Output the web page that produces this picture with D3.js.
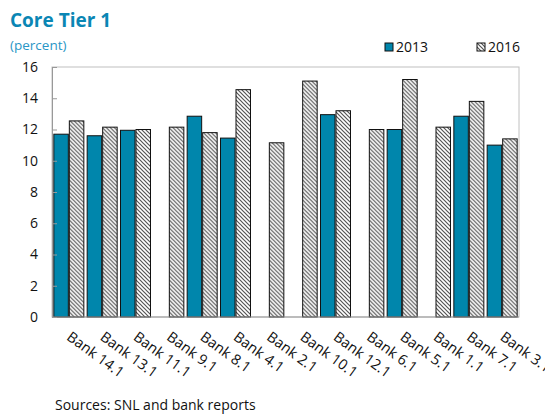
<!DOCTYPE html>
<html>
<head>
<meta charset="utf-8">
<script src="https://cdn.jsdelivr.net/npm/d3@7"></script>
<style>
  body { margin: 0; background: #fff; }
  text { font-family: "Open Sans", "Noto Sans", sans-serif; }
</style>
</head>
<body>
<script>
var banks = ["Bank 14.1", "Bank 13.1", "Bank 11.1", "Bank 9.1", "Bank 8.1", "Bank 4.1", "Bank 2.1",
             "Bank 10.1", "Bank 12.1", "Bank 6.1", "Bank 5.1", "Bank 1.1", "Bank 7.1", "Bank 3.1"];
var years = ["2013", "2016"];
var values2013 = [11.7, 11.6, 11.95, null, 12.85, 11.45, null, null, 12.95, null, 12.0, null, 12.85, 11.0];
var values2016 = [12.55, 12.15, 12.0, 12.15, 11.8, 14.55, 11.15, 15.1, 13.2, 12.0, 15.2, 12.15, 13.8, 11.4];
var yTicks = [0, 2, 4, 6, 8, 10, 12, 14, 16];

var width = 545;
var height = 414;
var plotLeft = 52, plotRight = 519, plotTop = 67, plotBottom = 317;
var teal = "#0086ac";

var svg = d3.select("body")
  .append("svg")
  .attr("width", width)
  .attr("height", height);

var defs = svg.append("defs");
var pat = defs.append("pattern")
  .attr("id", "hatch")
  .attr("patternUnits", "userSpaceOnUse")
  .attr("width", 4)
  .attr("height", 4);
pat.append("rect").attr("width", 4).attr("height", 4).attr("fill", "#fff");
pat.append("path")
  .attr("d", "M-1,-1 L5,5 M-1,3 L1,5 M3,-1 L5,1")
  .attr("stroke", "#555")
  .attr("stroke-width", 1.2);

var x0 = d3.scaleBand()
  .domain(banks)
  .range([plotLeft, plotRight])
  .paddingInner(0.07)
  .paddingOuter(0.04);

var x1 = d3.scaleBand()
  .domain(years)
  .range([0, x0.bandwidth()]);

var y = d3.scaleLinear()
  .domain([0, 16])
  .range([plotBottom, plotTop]);

// frame
svg.append("rect")
  .attr("x", plotLeft)
  .attr("y", plotTop)
  .attr("width", plotRight - plotLeft)
  .attr("height", plotBottom - plotTop)
  .attr("fill", "none")
  .attr("stroke", "#c0c0c0")
  .attr("stroke-width", 1);

// bars
var rows = banks.map(function(b, i) {
  return { bank: b, vals: [values2013[i], values2016[i]] };
});

var groups = svg.selectAll("g.grp")
  .data(rows)
  .enter()
  .append("g")
  .attr("class", "grp")
  .attr("transform", function(d) { return "translate(" + x0(d.bank) + ",0)"; });

groups.selectAll("rect")
  .data(function(d) {
    return years.map(function(yr, j) { return { year: yr, v: d.vals[j] }; })
      .filter(function(e) { return e.v !== null; });
  })
  .enter()
  .append("rect")
  .attr("x", function(d) { return x1(d.year) + 0.5; })
  .attr("y", function(d) { return y(d.v); })
  .attr("width", x1.bandwidth() - 1)
  .attr("height", function(d) { return y(0) - y(d.v); })
  .attr("fill", function(d) { return d.year === "2013" ? teal : "url(#hatch)"; })
  .attr("stroke", "#111")
  .attr("stroke-width", 1);

// y axis
var yAxis = d3.axisLeft(y)
  .tickValues(yTicks)
  .tickSize(-5)
  .tickPadding(14);

var gy = svg.append("g")
  .attr("transform", "translate(" + plotLeft + ",0)")
  .call(yAxis);
gy.select(".domain").attr("stroke", "#999");
gy.selectAll(".tick line").attr("stroke", "#999");
gy.selectAll(".tick text")
  .attr("font-size", 14)
  .attr("fill", "#111");

// x axis
var xAxis = d3.axisBottom(x0).tickSize(0).tickPadding(0);
var gx = svg.append("g")
  .attr("transform", "translate(0," + plotBottom + ")")
  .call(xAxis);
gx.select(".domain").attr("stroke", "#999").attr("d", "M" + plotLeft + ",0H" + plotRight);
gx.selectAll(".tick text")
  .attr("font-size", 14.5)
  .attr("fill", "#111")
  .attr("text-anchor", "start")
  .attr("dy", 0)
  .attr("transform", "translate(-3,22) rotate(36)");

// title
svg.append("text")
  .attr("x", 10)
  .attr("y", 27)
  .attr("font-size", 19)
  .attr("font-weight", "bold")
  .attr("fill", "#0a86b4")
  .text("Core Tier 1");

svg.append("text")
  .attr("x", 10)
  .attr("y", 50)
  .attr("font-size", 13.5)
  .attr("fill", "#2a96c6")
  .text("(percent)");

// legend
var legendX = [385, 477];
var lg = svg.selectAll("g.leg")
  .data(years)
  .enter()
  .append("g")
  .attr("class", "leg")
  .attr("transform", function(d, i) { return "translate(" + legendX[i] + ",43)"; });

lg.append("rect")
  .attr("width", 8)
  .attr("height", 8)
  .attr("fill", function(d) { return d === "2013" ? teal : "url(#hatch)"; })
  .attr("stroke", "#111")
  .attr("stroke-width", 1);

lg.append("text")
  .attr("x", 11)
  .attr("y", 9)
  .attr("font-size", 14)
  .attr("fill", "#111")
  .text(function(d) { return d; });

// source
svg.append("text")
  .attr("x", 55)
  .attr("y", 410)
  .attr("font-size", 14)
  .attr("fill", "#111")
  .text("Sources: SNL and bank reports");
</script>
</body>
</html>
